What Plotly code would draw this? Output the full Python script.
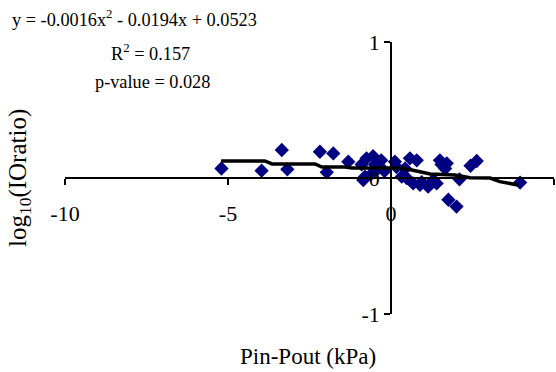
import plotly.graph_objects as go

# Data
pressure_diff = [-5.20, -3.97, -3.35, -3.18, -2.18, -1.77, -1.97, -1.31, -0.90, -0.85,
                 -0.80, -0.75, -0.55, -0.49, -0.44, -0.60, -0.30, -0.20, 0.12, 0.17,
                 0.33, 0.43, 0.48, 0.58, 0.79, 0.68, 0.89, 0.94, 1.14, 1.30,
                 1.40, 1.50, 1.55, 1.66, 1.71, 1.76, 2.01, 2.10, 2.44, 2.63, 3.96]
log_io_ratio = [0.070, 0.054, 0.206, 0.064, 0.193, 0.181, 0.042, 0.120, 0.100, -0.015,
                0.010, 0.145, 0.160, 0.100, 0.060, 0.030, 0.130, 0.050, 0.120, 0.080,
                0.010, 0.070, 0.000, 0.145, 0.130, -0.040, -0.050, -0.030, -0.064, -0.015,
                -0.040, 0.130, 0.100, 0.070, 0.108, -0.160, -0.210, -0.010, 0.090, 0.125, -0.034]

fit_x = [-5.21, -3.87, -3.65, -2.33, -2.12, -1.41, -1.20, 0.28, 0.64, 1.20, 1.96, 2.42, 3.04, 3.34, 3.90]
fit_y = [0.125, 0.125, 0.103, 0.103, 0.081, 0.081, 0.074, 0.074, 0.059, 0.029, 0.022, 0.002, 0.000, -0.027, -0.051]

x_ticks = [-10, -5, 0, 5]
y_ticks = [-1, 0, 1]

FONT = "Liberation Serif, Times New Roman, serif"

fig = go.Figure()
fig.add_trace(go.Scatter(
    x=pressure_diff, y=log_io_ratio, mode="markers",
    marker=dict(symbol="diamond", size=11, color="#000080", line=dict(width=0)),
    showlegend=False,
))
fig.add_trace(go.Scatter(
    x=fit_x, y=fit_y, mode="lines",
    line=dict(color="black", width=3.5),
    showlegend=False,
))

fig.update_layout(
    width=556, height=372,
    margin=dict(l=65, r=2, t=42, b=58),
    paper_bgcolor="white", plot_bgcolor="white",
    font=dict(family=FONT, size=18, color="black"),
    xaxis=dict(
        range=[-10, 5], tickvals=x_ticks, ticktext=[str(v) for v in x_ticks],
        showgrid=False, zeroline=False, showline=True, linecolor="black", linewidth=1.5,
        ticks="outside", ticklen=6, tickcolor="black", tickwidth=1.5,
        anchor="free", position=0.5, ticklabelstandoff=10,
        tickfont=dict(family=FONT, size=22),
    ),
    yaxis=dict(
        range=[-1, 1], tickvals=y_ticks, ticktext=[str(v) for v in y_ticks],
        showgrid=False, zeroline=False, showline=True, linecolor="black", linewidth=1.5,
        ticks="outside", ticklen=6, tickcolor="black", tickwidth=1.5,
        anchor="free", position=10 / 15,
        tickfont=dict(family=FONT, size=22),
    ),
    annotations=[
        dict(text="y = -0.0016x<sup>2</sup> - 0.0194x + 0.0523", xref="paper", yref="paper",
             x=-0.1125, y=1.088, xanchor="left", yanchor="middle", showarrow=False,
             font=dict(family=FONT, size=18.3)),
        dict(text="R<sup>2</sup> = 0.157", xref="paper", yref="paper",
             x=0.174, y=0.963, xanchor="center", yanchor="middle", showarrow=False,
             font=dict(family=FONT, size=18.3)),
        dict(text="p-value = 0.028", xref="paper", yref="paper",
             x=0.178, y=0.853, xanchor="center", yanchor="middle", showarrow=False,
             font=dict(family=FONT, size=18.3)),
        dict(text="log<sub>10</sub>(IOratio)", xref="paper", yref="paper",
             x=-0.094, y=0.5, xanchor="center", yanchor="middle", showarrow=False,
             textangle=-90, font=dict(family=FONT, size=25)),
        dict(text="Pin-Pout (kPa)", xref="paper", yref="paper",
             x=0.497, y=-0.155, xanchor="center", yanchor="middle", showarrow=False,
             font=dict(family=FONT, size=23)),
    ],
)

fig.write_html("out.html")
